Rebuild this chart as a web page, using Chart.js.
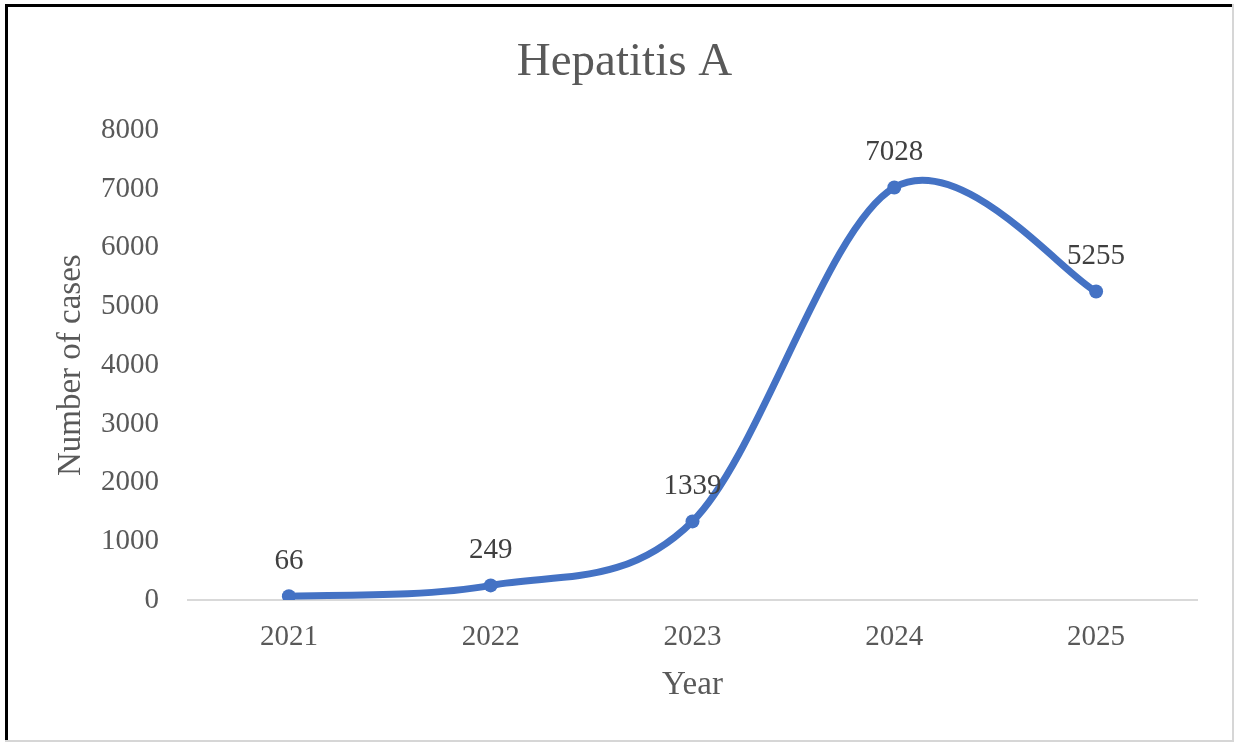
<!DOCTYPE html>
<html>
<head>
<meta charset="utf-8">
<script src="https://cdn.jsdelivr.net/npm/chart.js@4/dist/chart.umd.min.js"></script>
<style>
    html, body { margin: 0; padding: 0; background: #fff; }
    #wrap { position: relative; width: 1236px; height: 744px; overflow: hidden; }
    #chart { position: absolute; left: 0; top: 0; }
    .edge { position: absolute; }
    #edge-top { left: 5px; top: 4px; width: 1228px; height: 3px; background: #000; }
    #edge-left { left: 5px; top: 4px; width: 3px; height: 737px; background: #000; }
    #edge-right { left: 1232px; top: 4px; width: 2px; height: 737px; background: #d6d6d6; }
    #edge-bottom { left: 5px; top: 740px; width: 1229px; height: 2px; background: #d6d6d6; }
</style>
</head>
<body>
<div id="wrap">
    <canvas id="chart" width="1236" height="744"></canvas>
    <div class="edge" id="edge-top"></div>
    <div class="edge" id="edge-left"></div>
    <div class="edge" id="edge-right"></div>
    <div class="edge" id="edge-bottom"></div>
</div>
<script>
const years = ['2021', '2022', '2023', '2024', '2025'];
const cases = [66, 249, 1339, 7028, 5255];
const yTicks = [0, 1000, 2000, 3000, 4000, 5000, 6000, 7000, 8000];

const SERIF = '"Liberation Serif", "Times New Roman", serif';
const BLUE = '#4472C4';

// Excel style smoothing: uniform Catmull-Rom control points
const excelSmooth = {
    id: 'excelSmooth',
    beforeDatasetsDraw(chart) {
        const meta = chart.getDatasetMeta(0);
        if (meta.dataset && meta.dataset.updateControlPoints) {
            meta.dataset.updateControlPoints(chart.chartArea, 'x');
        }
        const pts = meta.data;
        const n = pts.length;
        pts.forEach((p, i) => {
            const prev = pts[Math.max(i - 1, 0)];
            const next = pts[Math.min(i + 1, n - 1)];
            const dx = (next.x - prev.x) / 6;
            const dy = (next.y - prev.y) / 6;
            p.cp1x = p.x - dx;
            p.cp1y = p.y - dy;
            p.cp2x = p.x + dx;
            p.cp2y = p.y + dy;
        });
    }
};

// draws the value above each point
const pointLabels = {
    id: 'pointLabels',
    afterDatasetsDraw(chart) {
        const ctx = chart.ctx;
        const meta = chart.getDatasetMeta(0);
        ctx.save();
        ctx.font = '29px ' + SERIF;
        ctx.fillStyle = '#404040';
        ctx.textAlign = 'center';
        ctx.textBaseline = 'middle';
        meta.data.forEach((pt, i) => {
            ctx.fillText(String(cases[i]), pt.x, pt.y - 35);
        });
        ctx.restore();
    }
};

new Chart(document.getElementById('chart').getContext('2d'), {
    type: 'line',
    data: {
        labels: years,
        datasets: [{
            label: 'Hepatitis A',
            data: cases,
            borderColor: BLUE,
            backgroundColor: BLUE,
            borderWidth: 7,
            tension: 0.5,
            pointRadius: 7,
            pointHoverRadius: 7,
            pointBackgroundColor: BLUE,
            pointBorderWidth: 0,
            fill: false
        }]
    },
    options: {
        responsive: false,
        animation: false,
        devicePixelRatio: 1,
        layout: { padding: { left: 52, right: 39, top: 0, bottom: 39 } },
        plugins: {
            legend: { display: false },
            tooltip: { enabled: false },
            title: {
                display: true,
                text: 'Hepatitis A',
                color: '#595959',
                font: { family: SERIF, size: 47, weight: 'normal' },
                padding: { top: 34, bottom: 40 }
            }
        },
        scales: {
            x: {
                offset: true,
                grid: { display: false, drawTicks: false },
                border: { display: true, color: '#d9d9d9', width: 2 },
                ticks: {
                    color: '#595959',
                    font: { family: SERIF, size: 29 },
                    padding: 20,
                    maxRotation: 0
                },
                title: {
                    display: true,
                    text: 'Year',
                    color: '#595959',
                    font: { family: SERIF, size: 33 },
                    padding: { top: 8, bottom: 0 }
                },
                afterFit: s => { s.height = 105; }
            },
            y: {
                min: 0,
                max: 8000,
                afterBuildTicks: s => { s.ticks = yTicks.map(v => ({ value: v })); },
                grid: { display: false, drawTicks: false },
                border: { display: false },
                ticks: {
                    color: '#595959',
                    font: { family: SERIF, size: 29 },
                    padding: 29,
                    callback: v => String(v)
                },
                title: {
                    display: true,
                    text: 'Number of cases',
                    color: '#595959',
                    font: { family: SERIF, size: 33 },
                    padding: { top: 0, bottom: 0 }
                },
                afterFit: s => { s.width = 136; }
            }
        }
    },
    plugins: [excelSmooth, pointLabels]
});
</script>
</body>
</html>
